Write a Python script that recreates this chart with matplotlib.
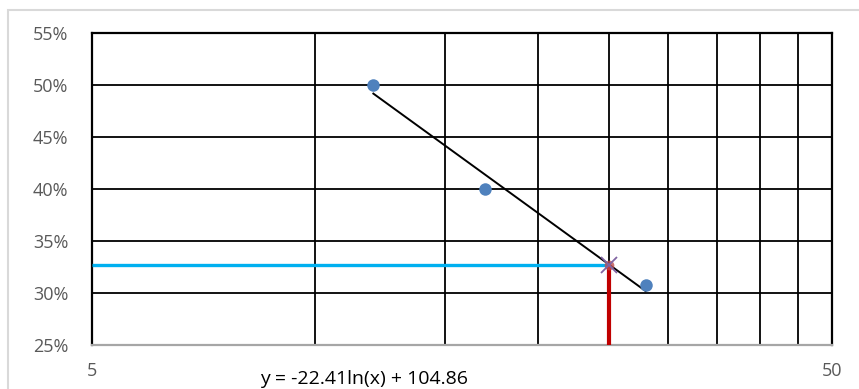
import numpy as np
import matplotlib
matplotlib.use("Agg")
import matplotlib.pyplot as plt
from matplotlib.patches import Rectangle
from matplotlib.ticker import FixedLocator, NullLocator, FuncFormatter

# Measured points (x on a log axis, y in percent)
x_points = [12, 17, 28]
y_points = [50.0, 40.0, 30.8]

# Logarithmic trendline y = a*ln(x) + b
trend_a = -22.41
trend_b = 104.86
trend_label = "y = -22.41ln(x) + 104.86"

x_read = 25

x_min, x_max = 5, 50
y_min, y_max = 25, 55
x_grid = [10, 15, 20, 25, 30, 35, 40, 45]
y_ticks = [25, 30, 35, 40, 45, 50, 55]
x_tick_labels = [5, 50]

plt.rcParams["font.family"] = ["Open Sans", "DejaVu Sans"]

W, H = 859, 389
fig = plt.figure(figsize=(W / 100, H / 100), dpi=100)

# light chart-area frame
fig.patches.append(Rectangle((8 / W, -0.1), 1.2, 1 - 10 / H + 0.1,
                             transform=fig.transFigure, fill=False,
                             edgecolor="#d9d9d9", linewidth=1.5))

ax = fig.add_axes([92 / W, (H - 345) / H, 740 / W, 312 / H])
ax.set_xscale("log")
ax.set_xlim(x_min, x_max)
ax.set_ylim(y_min, y_max)

# grid
for gx in x_grid:
    ax.axvline(gx, color="black", linewidth=1.3, zorder=1)
for gy in y_ticks[1:-1]:
    ax.axhline(gy, color="black", linewidth=1.3, zorder=1)

for side in ("left", "top", "right"):
    ax.spines[side].set_color("black")
    ax.spines[side].set_linewidth(1.6)
ax.spines["bottom"].set_color("#a6a6a6")
ax.spines["bottom"].set_linewidth(1.6)

ax.xaxis.set_major_locator(FixedLocator(x_tick_labels))
ax.xaxis.set_minor_locator(NullLocator())
ax.xaxis.set_major_formatter(FuncFormatter(lambda v, p: f"{v:g}"))
ax.yaxis.set_major_locator(FixedLocator(y_ticks))
ax.yaxis.set_major_formatter(FuncFormatter(lambda v, p: f"{v:.0f}%"))
ax.tick_params(axis="both", length=0, colors="#595959", labelsize=13)
ax.tick_params(axis="y", pad=17)
ax.tick_params(axis="x", pad=12)

# trendline over the span of the data
xt = np.linspace(min(x_points), max(x_points), 200)
ax.plot(xt, trend_a * np.log(xt) + trend_b, color="black", linewidth=1.4, zorder=3)

# read-off lines
y_read = trend_a * np.log(x_read) + trend_b
ax.plot([x_min, x_read], [y_read, y_read], color="#00b0f0", linewidth=2.4,
        zorder=4, solid_capstyle="butt")
ax.plot([x_read, x_read], [y_min, y_read], color="#c00000", linewidth=3.0,
        zorder=4, solid_capstyle="butt")
ax.plot([x_read], [y_read], marker="o", markersize=7, color="#c0504d",
        alpha=0.8, markeredgewidth=0, zorder=5, clip_on=False)
ax.plot([x_read], [y_read], marker="x", markersize=11, color="#8064a2",
        markeredgewidth=1.3, zorder=6)

# data points
ax.plot(x_points, y_points, linestyle="none", marker="o", markersize=9,
        color="#4f81bd", markeredgewidth=0, zorder=5)

fig.text(364 / W, 1 - 379 / H, trend_label, ha="center", va="center",
         fontsize=14, color="black")

fig.savefig("out.png", dpi=100)
